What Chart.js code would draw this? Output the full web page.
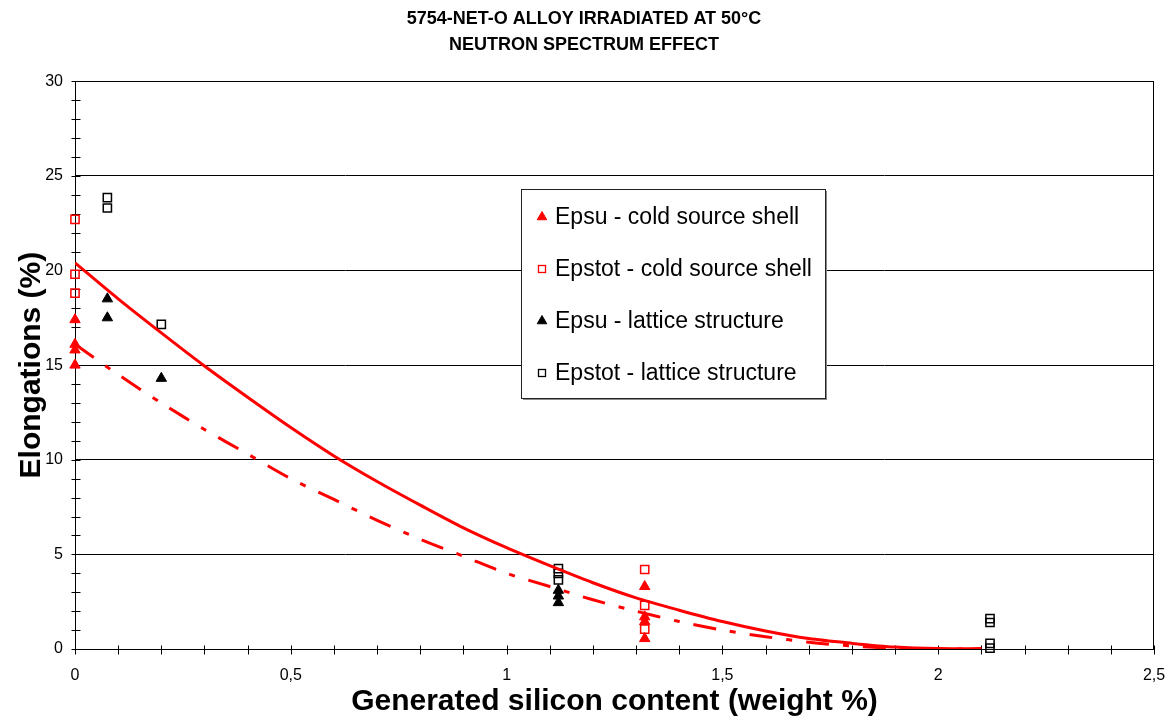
<!DOCTYPE html>
<html>
<head>
<meta charset="utf-8">
<title>5754-NET-O alloy irradiated at 50°C</title>
<script src="https://cdn.jsdelivr.net/npm/chart.js@4.4.0/dist/chart.umd.min.js"></script>
<style>
  html, body { margin: 0; padding: 0; background: #fff; }
  #wrap { width: 1168px; height: 717px; }
</style>
</head>
<body>
<div id="wrap"><canvas id="chart" width="1168" height="717"></canvas></div>
<script>
// --- measured elongations (%) vs generated Si content (wt %) ---
const epsuColdX = [0, 0, 0, 0, 1.32, 1.32, 1.32, 1.32];
const epsuColdY = [17.4, 16.1, 15.8, 15.0, 3.3, 1.7, 1.45, 0.55];

const epstotColdX = [0, 0, 0, 1.32, 1.32, 1.32];
const epstotColdY = [22.7, 19.8, 18.8, 4.2, 2.3, 1.05];

const epsuLatticeX = [0.075, 0.075, 0.2, 1.12, 1.12, 1.12];
const epsuLatticeY = [18.5, 17.5, 14.3, 3.1, 2.8, 2.45];

const epstotLatticeX = [0.075, 0.075, 0.2, 1.12, 1.12, 1.12, 2.12, 2.12, 2.12, 2.12];
const epstotLatticeY = [23.85, 23.3, 17.15, 4.25, 4.0, 3.65, 1.6, 1.4, 0.3, 0.05];

// --- polynomial trend curves (cold source shell) ---
const trendX = [0, 0.1, 0.2, 0.3, 0.4, 0.5, 0.6, 0.7, 0.8, 0.9, 1.0,
                1.1, 1.2, 1.3, 1.4, 1.5, 1.6, 1.7, 1.8, 1.9, 2.0, 2.1];
const epstotColdTrend = [20.4, 18.5, 16.7, 14.95, 13.3, 11.7, 10.2, 8.85, 7.6, 6.4, 5.35,
                         4.4, 3.5, 2.7, 2.05, 1.45, 0.95, 0.55, 0.3, 0.1, 0.02, 0.02];
const epsuColdTrend = [16.1, 14.5, 13.0, 11.6, 10.3, 9.0, 7.9, 6.8, 5.8, 4.9, 4.0,
                       3.3, 2.6, 2.0, 1.45, 1.0, 0.65, 0.36, 0.16, 0.04, 0.0, 0.0];

// --- axes ---
const xTicks = [0, 0.5, 1, 1.5, 2, 2.5];
const yTicks = [0, 5, 10, 15, 20, 25, 30];

const RED = '#ff0000';
const BLACK = '#000000';
const FONT = "'Liberation Sans', Arial, sans-serif";

Chart.defaults.font.family = FONT;
Chart.defaults.color = BLACK;

function pairs(xs, ys) {
  return xs.map((x, i) => ({ x: x, y: ys[i] }));
}

function markerSet(label, xs, ys, color, style) {
  const tri = style === 'triangle';
  return {
    label: label,
    data: pairs(xs, ys),
    pointStyle: style,
    pointRadius: tri ? 6 : 5.8,
    pointBorderWidth: tri ? 1 : 1.5,
    pointBorderColor: color,
    pointBackgroundColor: tri ? color : 'rgba(0,0,0,0)',
    borderColor: color,
    backgroundColor: tri ? color : 'rgba(0,0,0,0)',
    showLine: false,
    clip: false
  };
}

function trendSet(ys, dash) {
  return {
    label: '',
    data: pairs(trendX, ys),
    showLine: true,
    borderColor: RED,
    borderWidth: 3,
    borderDash: dash,
    pointRadius: 0,
    tension: 0.3,
    fill: false
  };
}

// plot frame plus the small crossing tick marks (major and minor)
const frameTicks = {
  id: 'frameTicks',
  beforeDatasetsDraw(chart) {
    const { ctx, chartArea: a, scales: { x, y } } = chart;
    const L = Math.round(a.left) + 0.5, R = Math.round(a.right) - 0.5;
    const T = Math.round(a.top) + 0.5, B = Math.round(a.bottom) + 0.5;
    ctx.save();
    ctx.strokeStyle = BLACK;
    ctx.lineWidth = 1;
    ctx.beginPath();
    ctx.moveTo(L, T); ctx.lineTo(R, T); ctx.lineTo(R, B); ctx.lineTo(L, B); ctx.closePath();
    for (let i = 0; i <= 25; i++) {
      const px = Math.round(x.getPixelForValue(i / 10)) + 0.5;
      ctx.moveTo(px, B - 4); ctx.lineTo(px, B + 5);
    }
    for (let i = 0; i <= 30; i++) {
      const py = Math.round(y.getPixelForValue(i)) + 0.5;
      ctx.moveTo(L - 4, py); ctx.lineTo(L + 5, py);
    }
    ctx.stroke();
    ctx.restore();
  }
};

function drawMarker(ctx, ds, cx, cy) {
  ctx.save();
  ctx.strokeStyle = ds.pointBorderColor;
  ctx.fillStyle = ds.pointBackgroundColor;
  if (ds.pointStyle === 'triangle') {
    const r = 5.5;
    ctx.lineWidth = 1;
    ctx.beginPath();
    ctx.moveTo(cx, cy - r);
    ctx.lineTo(cx + r * 0.866, cy + r * 0.5);
    ctx.lineTo(cx - r * 0.866, cy + r * 0.5);
    ctx.closePath();
    ctx.fill();
    ctx.stroke();
  } else {
    ctx.lineWidth = 1.3;
    ctx.strokeRect(cx - 3.5, cy - 3.5, 7, 7);
  }
  ctx.restore();
}

// boxed legend sitting inside the plot
const boxLegend = {
  id: 'boxLegend',
  afterDraw(chart, args, opts) {
    const { ctx } = chart;
    const items = chart.data.datasets.filter(ds => !ds.showLine);
    ctx.save();
    ctx.fillStyle = '#8a8a8a';
    ctx.fillRect(opts.left + 2, opts.top + 2, opts.width, opts.height);
    ctx.fillStyle = '#ffffff';
    ctx.fillRect(opts.left, opts.top, opts.width, opts.height);
    ctx.strokeStyle = '#222';
    ctx.lineWidth = 1;
    ctx.strokeRect(opts.left + 0.5, opts.top + 0.5, opts.width, opts.height);
    ctx.font = '23px ' + FONT;
    ctx.fillStyle = BLACK;
    ctx.textBaseline = 'middle';
    ctx.textAlign = 'left';
    items.forEach((ds, i) => {
      const cy = opts.top + opts.firstRow + i * opts.rowGap;
      drawMarker(ctx, ds, opts.left + opts.markerX, cy);
      ctx.fillStyle = BLACK;
      ctx.fillText(ds.label, opts.left + opts.textX, cy + 1);
    });
    ctx.restore();
  }
};

new Chart(document.getElementById('chart'), {
  type: 'scatter',
  data: {
    datasets: [
      trendSet(epstotColdTrend, []),
      trendSet(epsuColdTrend, [23, 14, 6, 14]),
      markerSet('Epsu - cold source shell', epsuColdX, epsuColdY, RED, 'triangle'),
      markerSet('Epstot - cold source shell', epstotColdX, epstotColdY, RED, 'rect'),
      markerSet('Epsu - lattice structure', epsuLatticeX, epsuLatticeY, BLACK, 'triangle'),
      markerSet('Epstot - lattice structure', epstotLatticeX, epstotLatticeY, BLACK, 'rect')
    ]
  },
  options: {
    responsive: false,
    animation: false,
    devicePixelRatio: 1,
    layout: { padding: { left: 0, right: 0, top: 0, bottom: 0 } },
    plugins: {
      legend: { display: false },
      tooltip: { enabled: false },
      title: {
        display: true,
        text: ['5754-NET-O ALLOY IRRADIATED AT 50°C', 'NEUTRON SPECTRUM EFFECT'],
        color: BLACK,
        font: { size: 18, weight: 'bold', lineHeight: 1.45 },
        padding: { top: 6, bottom: 23 }
      },
      boxLegend: {
        left: 521, top: 189, width: 304, height: 209,
        markerX: 21, textX: 34, firstRow: 28, rowGap: 52
      }
    },
    scales: {
      x: {
        type: 'linear',
        min: 0,
        max: 2.5,
        afterBuildTicks: s => { s.ticks = xTicks.map(v => ({ value: v })); },
        afterFit: s => { s.height = 68; s.paddingLeft = 0; s.paddingRight = 14; },
        ticks: {
          font: { size: 16 },
          color: BLACK,
          padding: 17,
          maxRotation: 0,
          callback: v => String(v).replace('.', ',')
        },
        grid: { display: false, drawTicks: false },
        border: { display: true, color: BLACK, width: 1 },
        title: {
          display: true,
          text: 'Generated silicon content (weight %)',
          color: BLACK,
          font: { size: 30, weight: 'bold', lineHeight: 1 },
          padding: { top: 0, bottom: 0 }
        }
      },
      y: {
        min: 0,
        max: 30,
        afterBuildTicks: s => { s.ticks = yTicks.map(v => ({ value: v })); },
        afterFit: s => { s.width = 75; },
        ticks: { font: { size: 16 }, color: BLACK, padding: 12 },
        grid: { color: BLACK, lineWidth: 1, drawTicks: false },
        border: { display: true, color: BLACK, width: 1 },
        title: {
          display: true,
          text: 'Elongations (%)',
          color: BLACK,
          font: { size: 30, weight: 'bold', lineHeight: 1 },
          padding: { top: 17, bottom: 0 }
        }
      }
    }
  },
  plugins: [frameTicks, boxLegend]
});
</script>
</body>
</html>
